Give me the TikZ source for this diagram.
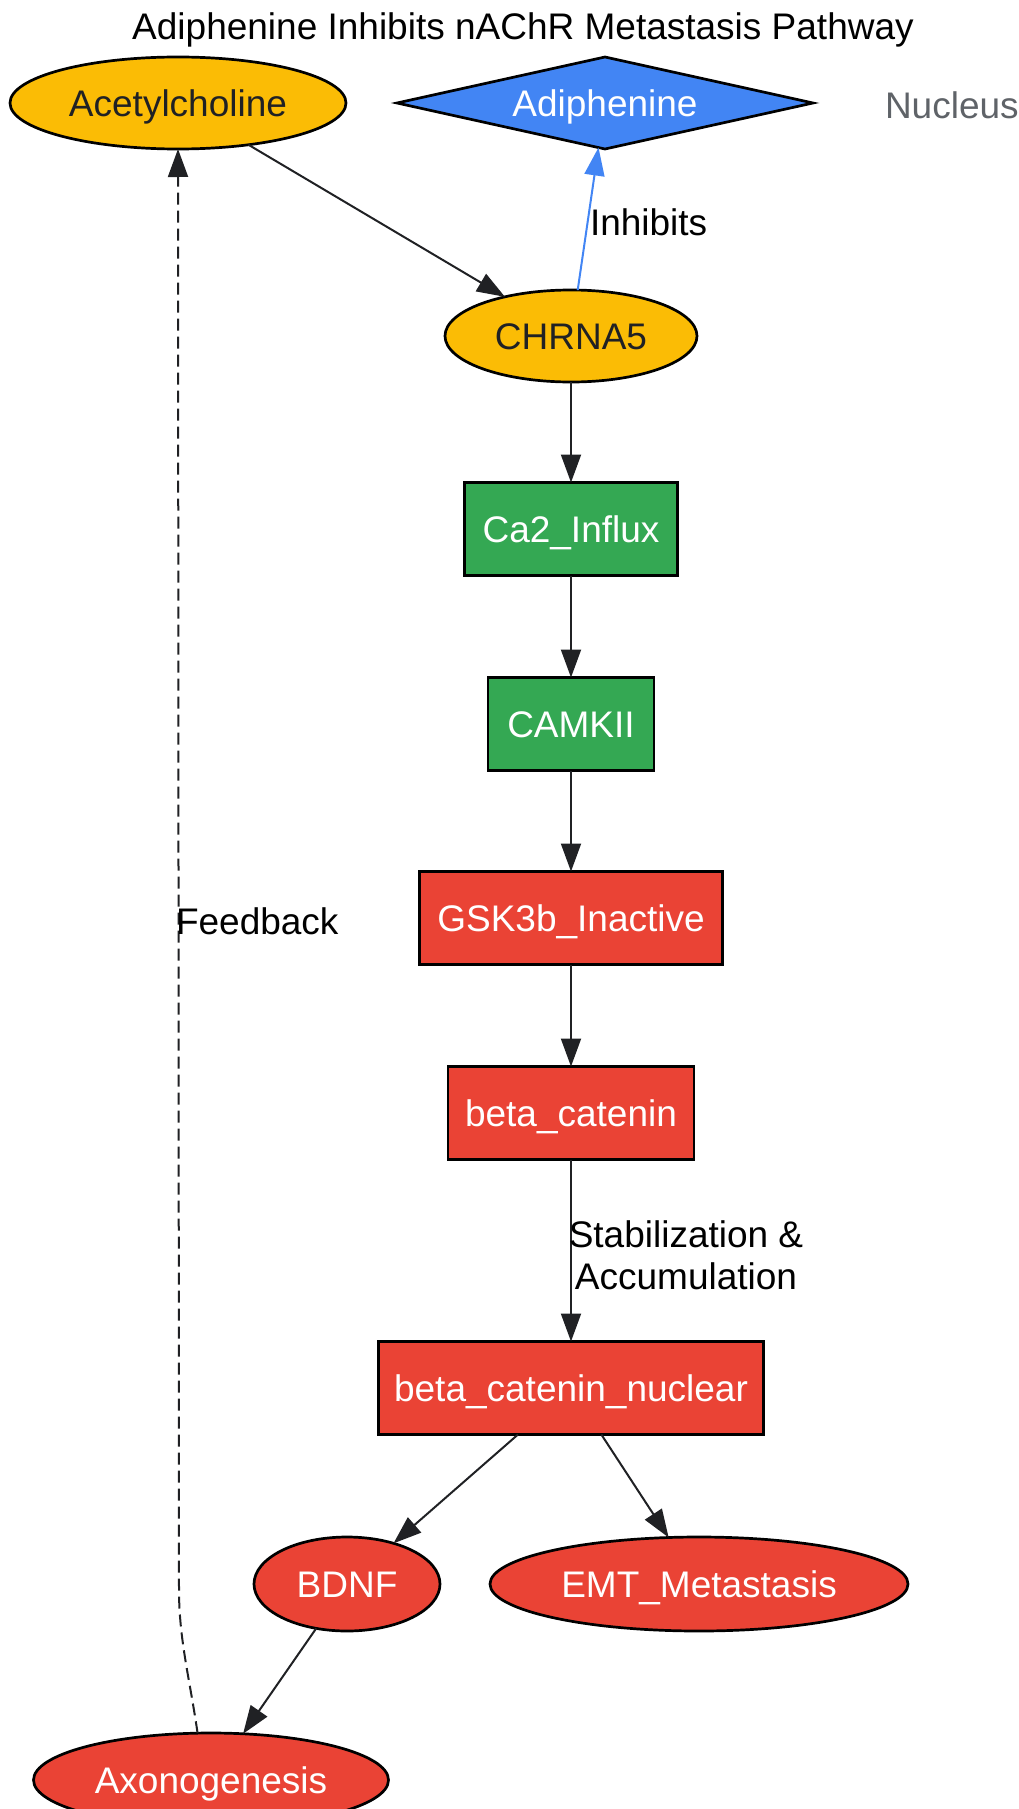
\documentclass[tikz,border=0pt]{standalone}
\usepackage{fontspec}
\setmainfont{Liberation Sans}
\usetikzlibrary{shapes.geometric,arrows.meta}
\definecolor{gyellow}{HTML}{FBBC05}
\definecolor{gblue}{HTML}{4285F4}
\definecolor{ggreen}{HTML}{34A853}
\definecolor{gred}{HTML}{EA4335}
\definecolor{gdark}{HTML}{202124}
\definecolor{ggray}{HTML}{5F6368}
\begin{document}
\begin{tikzpicture}[x=1pt,y=-1pt,
  every node/.style={font=\fontsize{37}{42}\selectfont, inner sep=0pt, outer sep=0pt, text height=26.5pt, text depth=0pt},
  base/.style={draw=black, line width=2.7pt},
  yell/.style={base, ellipse, fill=gyellow, text=gdark, minimum height=92pt},
  redell/.style={base, ellipse, fill=gred, text=white, minimum height=94pt},
  greenbox/.style={base, rectangle, fill=ggreen, text=white, minimum height=93pt},
  redbox/.style={base, rectangle, fill=gred, text=white, minimum height=93pt},
  drug/.style={base, diamond, aspect=4.45, fill=gblue, text=white, minimum width=416pt, minimum height=92pt},
  plain/.style={text=black},
  edge/.style={draw=gdark, line width=2pt, -{Triangle[length=28pt,width=20pt]}},
  inhib/.style={draw=gblue, line width=2pt, -{Triangle[length=28pt,width=20pt]}},
  fb/.style={draw=gdark, line width=2pt, dash pattern=on 12pt off 6pt, -{Triangle[length=28pt,width=20pt]}}
]
\useasboundingbox (0,0) rectangle (1019,1809);

% title
\node[plain] (title) at (523,26) {Adiphenine Inhibits nAChR Metastasis Pathway};

% nodes
\node[yell, minimum width=336pt] (acetyl) at (178,103) {Acetylcholine};
\node[drug] (adiph) at (605,103) {Adiphenine};
\node[text=ggray, anchor=west] (nucleus) at (885,105) {Nucleus};
\node[yell, minimum width=252pt] (chrna5) at (571,336) {CHRNA5};
\node[greenbox, minimum width=213pt] (ca2) at (571,529) {Ca2\_Influx};
\node[greenbox, minimum width=166pt] (camkii) at (571,724) {CAMKII};
\node[redbox, minimum width=303pt] (gsk) at (571,918) {GSK3b\_Inactive};
\node[redbox, minimum width=246pt] (beta) at (571,1113) {beta\_catenin};
\node[redbox, minimum width=385pt] (nuclear) at (571,1388) {beta\_catenin\_nuclear};
\node[redell, minimum width=186pt] (bdnf) at (347,1584) {BDNF};
\node[redell, minimum width=418pt] (emt) at (699,1584) {EMT\_Metastasis};
\node[redell, minimum width=355pt] (axon) at (211,1780) {Axonogenesis};

% edges
\draw[edge] (acetyl) -- (chrna5);
\draw[inhib] (chrna5) -- (adiph);
\node[plain, anchor=west] (lblinh) at (590,222) {Inhibits};
\draw[edge] (chrna5) -- (ca2);
\draw[edge] (ca2) -- (camkii);
\draw[edge] (camkii) -- (gsk);
\draw[edge] (gsk) -- (beta);
\draw[edge] (beta) -- (nuclear);
\node[plain, align=center, text height=, text depth=] (lblstab) at (686,1255) {Stabilization \&\\Accumulation};
\draw[edge] (nuclear) -- (bdnf);
\draw[edge] (nuclear) -- (emt);
\draw[edge] (bdnf) -- (axon);

% feedback
\coordinate (fbc1) at (190,1680);
\coordinate (fbc2) at (179,1640);
\coordinate (fbturn) at (179,1590);
\coordinate (fbtop) at (179,150);
\draw[fb] (axon.106) .. controls (fbc1) and (fbc2) .. (fbturn) -- (acetyl.south);
\node[plain, anchor=west] (lblfb) at (176,921) {Feedback};
\end{tikzpicture}
\end{document}
